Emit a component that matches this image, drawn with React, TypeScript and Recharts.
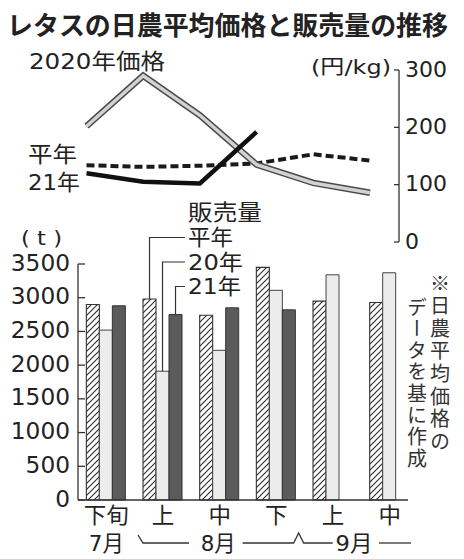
import React from 'react';
import { LineChart, Line, BarChart, Bar, XAxis, YAxis } from 'recharts';

// 旬 (ten-day period) categories
const periodKeys = ['7月下旬', '8月上旬', '8月中旬', '8月下旬', '9月上旬', '9月中旬'];
const periodLabels = ['下旬', '上', '中', '下', '上', '中'];
const monthLabels = ['7月', '8月', '9月'];

// 日農平均価格 (円/kg)
const priceAvg = [134, 131, 133, 137, 153, 142];
const price2020 = [202, 290, 221, 135, 103, 86];
const price2021 = [120, 105, 102, 192, null, null];

// 販売量 (t)
const salesAvg = [2900, 2980, 2740, 3450, 2950, 2930];
const sales2020 = [2520, 1910, 2220, 3110, 3340, 3370];
const sales2021 = [2880, 2750, 2850, 2820, null, null];

const priceTicks = [0, 100, 200, 300];
const salesTicks = [0, 500, 1000, 1500, 2000, 2500, 3000, 3500];

const FONT = '"DejaVu Sans", "Noto Sans CJK JP", sans-serif';
const JP = '"Noto Sans CJK JP", sans-serif';
const INK = '#222';
const BAR_TOP = 180;

const priceData = periodKeys.map((key, i) => ({
  key,
  avg: priceAvg[i],
  y2020: price2020[i],
  y2021: price2021[i],
}));

const salesData = periodKeys.map((key, i) => ({
  key,
  avg: salesAvg[i],
  y2020: sales2020[i],
  y2021: sales2021[i],
}));

function Txt({ x, y, w, size = 22, anchor = 'start', weight = 400, family = FONT, children }: any) {
  return (
    <text
      x={x}
      y={y}
      textAnchor={anchor}
      dominantBaseline="central"
      fontFamily={family}
      fontSize={size}
      fontWeight={weight}
      fill={INK}
      textLength={w}
      lengthAdjust="spacingAndGlyphs"
    >
      {children}
    </text>
  );
}

const PriceTick = (props: any) => {
  const { x, y, payload } = props;
  const s = String(payload.value);
  return (
    <g>
      <line x1={x - 5} y1={y} x2={x} y2={y} stroke="#333" strokeWidth={1.3} />
      <Txt x={x + 6} y={y - 1} w={14 * s.length} size={22}>{s}</Txt>
    </g>
  );
};

const SalesTick = (props: any) => {
  const { x, y, payload } = props;
  const s = String(payload.value);
  return (
    <g>
      <line x1={x} y1={y} x2={x + 7} y2={y} stroke="#333" strokeWidth={1.3} />
      <Txt x={x - 8} y={y - 1.5} w={14.8 * s.length} size={23} anchor="end">{s}</Txt>
    </g>
  );
};

const PeriodTick = (props: any) => {
  const { x, y, index } = props;
  const label = periodLabels[index];
  const row = y + 43;
  const line = { fill: 'none', stroke: '#333', strokeWidth: 1.3 };
  return (
    <g>
      <Txt x={x} y={y + 15} w={label.length * 22.5} anchor="middle">{label}</Txt>
      {index === 0 && <Txt x={x} y={row} w={35} anchor="middle">{monthLabels[0]}</Txt>}
      {index === 1 && <polyline points={`${x - 25},${row - 8} ${x - 20},${row} ${x + 26},${row}`} {...line} />}
      {index === 2 && (
        <g>
          <Txt x={x - 1.5} y={row} w={35} anchor="middle">{monthLabels[1]}</Txt>
          <polyline
            points={`${x + 23},${row} ${x + 74},${row} ${x + 79},${row - 10} ${x + 84},${row} ${x + 113},${row}`}
            {...line}
          />
        </g>
      )}
      {index === 4 && (
        <g>
          <Txt x={x + 21} y={row} w={37} anchor="middle">{monthLabels[2]}</Txt>
          <line x1={x + 46} y1={row} x2={x + 78} y2={row} {...line} />
        </g>
      )}
    </g>
  );
};

// leader line from the 8月上旬 bar to its legend text
const leader = (text: string, pageY: number, w: number) => (props: any) => {
  if (props.index !== 1) return null;
  const vb = props.viewBox ?? props;
  const cx = vb.x + vb.width / 2;
  const ly = pageY - BAR_TOP;
  return (
    <g>
      <polyline points={`${cx},${vb.y} ${cx},${ly} 185,${ly}`} fill="none" stroke="#333" strokeWidth={1.2} />
      <Txt x={188} y={ly} w={w}>{text}</Txt>
    </g>
  );
};

export default function App() {
  const axisLine = { stroke: '#333', strokeWidth: 1.3 };
  return (
    <div style={{ position: 'absolute', left: 0, top: 0, width: 464, height: 559, background: '#fff' }}>
      <div style={{ position: 'absolute', left: 0, top: 0 }}>
        <LineChart width={464} height={260} data={priceData} margin={{ top: 70, right: 5, bottom: 18, left: 0 }}>
          <XAxis dataKey="key" hide scale="point" padding={{ left: 86.5, right: 29 }} />
          <YAxis
            orientation="right"
            width={60}
            domain={[0, 300]}
            ticks={priceTicks}
            interval={0}
            axisLine={axisLine}
            tickLine={false}
            tickSize={0}
            tickMargin={0}
            tick={<PriceTick />}
          />
          <Line dataKey="avg" stroke="#1a1a1a" strokeWidth={4} strokeDasharray="8 4" dot={false} isAnimationActive={false} />
          <Line dataKey="y2020" stroke="#4a4a4a" strokeWidth={6.5} dot={false} isAnimationActive={false} />
          <Line dataKey="y2020" stroke="#d2d2d2" strokeWidth={3.5} dot={false} isAnimationActive={false} />
          <Line dataKey="y2021" stroke="#111" strokeWidth={4.5} dot={false} isAnimationActive={false} />
        </LineChart>
      </div>

      <div style={{ position: 'absolute', left: 0, top: BAR_TOP }}>
        <BarChart
          width={464}
          height={379}
          data={salesData}
          margin={{ top: 84, right: 56, bottom: 0, left: 0 }}
          barCategoryGap={8.35}
          barGap={0}
        >
          <defs>
            <pattern id="hatch" patternUnits="userSpaceOnUse" width={6} height={6}>
              <rect width={6} height={6} fill="#fff" />
              <path d="M0,6 L6,0 M-1,1 L1,-1 M5,7 L7,5" stroke="#333" strokeWidth={1.2} />
            </pattern>
          </defs>
          <XAxis
            dataKey="key"
            height={59}
            padding={{ left: 0, right: -10 }}
            interval={0}
            axisLine={axisLine}
            tickLine={false}
            tickSize={0}
            tickMargin={0}
            tick={<PeriodTick />}
          />
          <YAxis
            width={78}
            domain={[0, 3500]}
            ticks={salesTicks}
            interval={0}
            axisLine={axisLine}
            tickLine={false}
            tickSize={0}
            tickMargin={0}
            tick={<SalesTick />}
          />
          <Bar dataKey="avg" fill="url(#hatch)" stroke="#333" strokeWidth={1.1} isAnimationActive={false} label={leader('平年', 237.5, 45)} />
          <Bar dataKey="y2020" fill="#ececec" stroke="#444" strokeWidth={1} isAnimationActive={false} label={leader('20年', 262, 55)} />
          <Bar dataKey="y2021" fill="#5b5b5b" stroke="#333" strokeWidth={1} isAnimationActive={false} label={leader('21年', 286.5, 53)} />
        </BarChart>
      </div>

      <svg width={464} height={559} style={{ position: 'absolute', left: 0, top: 0, pointerEvents: 'none' }}>
        <Txt x={7} y={23.5} w={441} size={26} weight={700} family={JP}>レタスの日農平均価格と販売量の推移</Txt>
        <Txt x={29} y={61} w={136}>2020年価格</Txt>
        <Txt x={28} y={154} w={49}>平年</Txt>
        <Txt x={28} y={182} w={52}>21年</Txt>
        <Txt x={311} y={67} w={80} size={20}>(円/kg)</Txt>
        <Txt x={21} y={238} w={41} size={19}>( t )</Txt>
        <Txt x={188} y={212} w={74}>販売量</Txt>
      </svg>

      <div
        style={{
          position: 'absolute', left: 428.5, top: 273, width: 23, writingMode: 'vertical-rl',
          fontFamily: JP, fontSize: 20, lineHeight: '23px', letterSpacing: 2.6, color: '#333',
        }}
      >
        ※日農平均価格の
      </div>
      <div
        style={{
          position: 'absolute', left: 405.5, top: 297, width: 23, writingMode: 'vertical-rl',
          fontFamily: JP, fontSize: 20, lineHeight: '23px', letterSpacing: 1.6, color: '#333',
        }}
      >
        データを基に作成
      </div>
    </div>
  );
}
